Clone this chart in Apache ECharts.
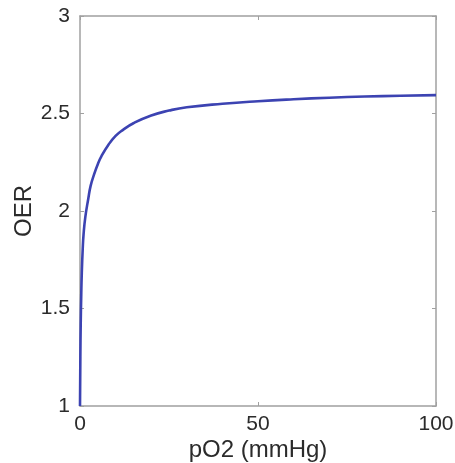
<!DOCTYPE html>
<html>
<head>
<meta charset="utf-8">
<script src="https://cdn.jsdelivr.net/npm/echarts@6/dist/echarts.min.js"></script>
<style>
html,body{margin:0;padding:0;background:#fff;}
#chart{width:455px;height:463px;}
</style>
</head>
<body>
<div id="chart"></div>
<script>
// pO2 (mmHg) values
var pO2 = [0, 0.1, 0.2, 0.35, 0.5, 0.75, 1.0, 1.5, 2.3, 3.0, 4, 5, 6, 8, 10, 12, 15, 20, 25, 30, 40, 50, 60, 70, 80, 90, 100];
// OER values
var oer = [1.0, 1.25, 1.42, 1.57, 1.68, 1.80, 1.88, 1.97, 2.06, 2.13, 2.19, 2.24, 2.28, 2.34, 2.385, 2.415, 2.45, 2.49, 2.515, 2.532, 2.55, 2.563, 2.573, 2.581, 2.587, 2.591, 2.594];
var xTicks = [0, 50, 100];
var yTicks = [1, 1.5, 2, 2.5, 3];

var data = pO2.map(function (p, i) { return [p, oer[i]]; });
var axisColor = '#a0a0a0';
var textColor = '#2b2b2b';
var fontFamily = 'Liberation Sans, Arial, sans-serif';
var tickFont = 21;
var nameFont = 24;

var chart = echarts.init(document.getElementById('chart'));
chart.setOption({
  animation: false,
  backgroundColor: '#fff',
  grid: { left: 80, right: 19, top: 16, bottom: 57, show: false, containLabel: false, outerBoundsMode: 'none' },
  xAxis: [{
    type: 'value', min: 0, max: 100, interval: 50,
    name: 'pO2 (mmHg)', nameLocation: 'middle', nameGap: 32, nameMoveOverlap: false,
    nameTextStyle: { color: textColor, fontSize: nameFont, fontFamily: fontFamily },
    axisLine: { show: true, onZero: false, lineStyle: { color: axisColor, width: 1.5 } },
    axisTick: { show: true, inside: true, length: 4, lineStyle: { color: axisColor } },
    axisLabel: { color: textColor, fontSize: tickFont, fontFamily: fontFamily, margin: 8,
      formatter: function (v) { return xTicks.indexOf(v) >= 0 ? String(v) : ''; } },
    splitLine: { show: false }
  }, {
    type: 'value', min: 0, max: 100, interval: 50, position: 'top',
    axisLine: { show: true, onZero: false, lineStyle: { color: axisColor, width: 1.5 } },
    axisTick: { show: true, inside: true, length: 4, lineStyle: { color: axisColor } },
    axisLabel: { show: false }, splitLine: { show: false }
  }],
  yAxis: [{
    type: 'value', min: 1, max: 3, interval: 0.5,
    name: 'OER', nameLocation: 'middle', nameGap: 44, nameRotate: 90, nameMoveOverlap: false,
    nameTextStyle: { color: textColor, fontSize: nameFont, fontFamily: fontFamily },
    axisLine: { show: true, onZero: false, lineStyle: { color: axisColor, width: 1.5 } },
    axisTick: { show: true, inside: true, length: 4, lineStyle: { color: axisColor } },
    axisLabel: { color: textColor, fontSize: tickFont, fontFamily: fontFamily, margin: 10,
      formatter: function (v) { return yTicks.indexOf(v) >= 0 ? String(v) : ''; } },
    splitLine: { show: false }
  }, {
    type: 'value', min: 1, max: 3, interval: 0.5, position: 'right',
    axisLine: { show: true, onZero: false, lineStyle: { color: axisColor, width: 1.5 } },
    axisTick: { show: true, inside: true, length: 4, lineStyle: { color: axisColor } },
    axisLabel: { show: false }, splitLine: { show: false }
  }],
  series: [{
    type: 'line', data: data, smooth: true, showSymbol: false, symbol: 'none',
    xAxisIndex: 0, yAxisIndex: 0,
    lineStyle: { color: '#3c43b2', width: 2.6 }
  }]
});
</script>
</body>
</html>
